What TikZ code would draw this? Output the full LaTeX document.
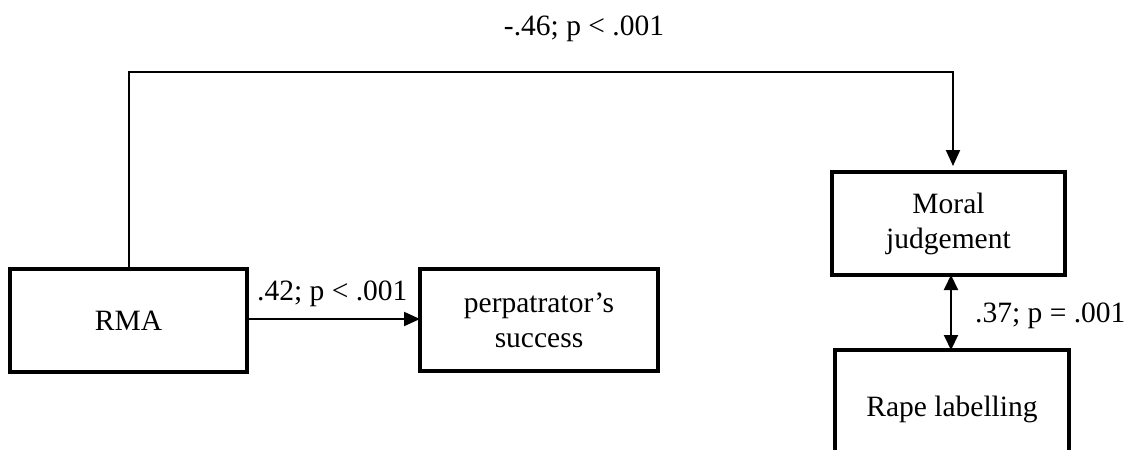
\documentclass[tikz,border=0pt]{standalone}
\usepackage{fontspec}
\setmainfont{Liberation Serif}
\usetikzlibrary{arrows.meta}
\begin{document}
\begin{tikzpicture}[x=1pt,y=-1pt,
  box/.style={draw=black,line width=4pt,inner sep=0pt,outer sep=0pt,align=center,
    font=\fontsize{29.5}{35}\selectfont},
  lab/.style={inner sep=0pt,font=\fontsize{29.5}{35}\selectfont},
  conn/.style={line width=2pt},
  tip/.style={-{Triangle[length=16pt,width=14pt]}},
  dtip/.style={{Triangle[length=15pt,width=14pt]}-{Triangle[length=15pt,width=14pt]}}]
\clip (0,0) rectangle (1128,450);
\fill[white] (0,0) rectangle (1128,450);
\node[box,minimum width=237pt,minimum height=103pt] (rma) at (128.5,320.5) {RMA};
\node[box,minimum width=238pt,minimum height=102pt] (perp) at (539,320) {perpatrator’s\\success};
\node[box,minimum width=233pt,minimum height=103pt] (moral) at (948.5,223.5) {Moral\\judgement};
\node[box,minimum width=234pt,minimum height=120pt,text depth=0pt] (rape) at (952,410) {\raisebox{8pt}{Rape labelling}};
\coordinate (tr) at (953,72);
\coordinate (dx) at (951,0);
\draw[conn,tip,shorten >=6pt] (rma.north) |- (tr) -- (moral.north -| tr);
\draw[conn,tip] (rma.east |- 0,319) -- (perp.west |- 0,319);
\draw[conn,dtip] (moral.south -| dx) -- (rape.north -| dx);
\node[lab,anchor=base] (l1) at (584,35) {-.46; p < .001};
\node[lab,anchor=base west] (l2) at (257,300) {.42; p < .001};
\node[lab,anchor=base west] (l3) at (975,322) {.37; p = .001};
\end{tikzpicture}
\end{document}
